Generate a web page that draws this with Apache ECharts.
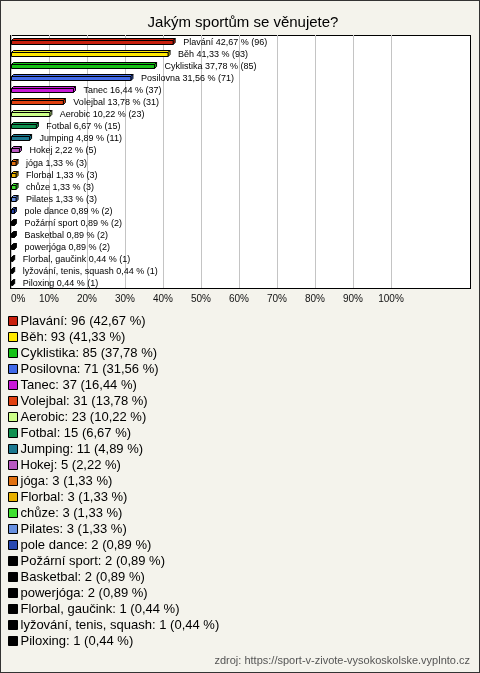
<!DOCTYPE html>
<html>
<head>
<meta charset="utf-8">
<script src="https://cdn.jsdelivr.net/npm/echarts@6/dist/echarts.min.js"></script>
<style>
  html, body { margin:0; padding:0; }
  body { width:480px; height:673px; position:relative; background:#f4f3ec; }
  #frame { position:absolute; left:0; top:0; width:480px; height:673px; box-sizing:border-box; border:1px solid #333; }
  #plotbox { position:absolute; left:10px; top:35px; width:461px; height:254px; box-sizing:border-box; border:1px solid #000; background:#fff; }
  #chart { position:absolute; left:0; top:0; width:480px; height:673px; }
</style>
</head>
<body>
<div id="frame"></div>
<div id="plotbox"></div>
<div id="chart"></div>
<script>
const categories = ["Plavání","Běh","Cyklistika","Posilovna","Tanec","Volejbal","Aerobic","Fotbal","Jumping","Hokej","jóga","Florbal","chůze","Pilates","pole dance","Požární sport","Basketbal","powerjóga","Florbal, gaučink","lyžování, tenis, squash","Piloxing"];
const counts = [96,93,85,71,37,31,23,15,11,5,3,3,3,3,2,2,2,2,1,1,1];
const percents = [42.67,41.33,37.78,31.56,16.44,13.78,10.22,6.67,4.89,2.22,1.33,1.33,1.33,1.33,0.89,0.89,0.89,0.89,0.44,0.44,0.44];
const colors = ["#c8200e","#ffe800","#16c216","#4169e8","#c818d8","#e04010","#ccff88","#109050","#1c7890","#b858c0","#e07010","#e8b000","#40e030","#6890e0","#2848b0","#000000","#000000","#000000","#000000","#000000","#000000"];
const xTicks = [0,10,20,30,40,50,60,70,80,90,100];

const fmt = v => v.toFixed(2).replace('.', ',');

const chart = echarts.init(document.getElementById('chart'), null, {renderer:'canvas'});

const D = 2;
function makeRender(idx){
  return function(params, api){
    const v = api.value(0), i = api.value(1);
    const p0 = api.coord([0, i]);
    const p1 = api.coord([v, i]);
    const x0 = p0[0] + 0.5, x1 = p1[0], cy = Math.round(p0[1]) + 0.5;
    const col = colors[idx];
    const line = {stroke:'#000', lineWidth:1};
    return {
      type:'group',
      children:[
        {type:'polygon', shape:{points:[[x0,cy-1],[x0+D,cy-1-D],[x1+D,cy-1-D],[x1,cy-1]]}, style:Object.assign({fill:col}, line)},
        {type:'polygon', shape:{points:[[x1,cy-1],[x1+D,cy-1-D],[x1+D,cy+3-D],[x1,cy+3]]}, style:Object.assign({fill:col}, line)},
        {type:'rect', shape:{x:x0, y:cy-1, width:Math.max(x1-x0,0.5), height:4}, style:Object.assign({fill:col}, line)},
        {type:'text', x:x1 + D + 8, y:cy + 1, style:{
          text: categories[idx] + ' ' + fmt(percents[idx]) + ' % (' + counts[idx] + ')',
          fill:'#000', fontSize:9, fontFamily:'Liberation Sans, Arial, sans-serif',
          align:'left', verticalAlign:'middle', textAlign:'left', textVerticalAlign:'middle'
        }}
      ]
    };
  };
}

const series = categories.map((name, idx) => ({
  type:'custom',
  name: name,
  color: colors[idx],
  itemStyle:{color: colors[idx]},
  renderItem: makeRender(idx),
  encode:{x:0, y:1},
  data:[[percents[idx], idx]],
  clip:false,
  animation:false
}));

chart.setOption({
  backgroundColor:'transparent',
  animation:false,
  title:{
    text:'Jakým sportům se věnujete?',
    left:238, textAlign:'center', top:10,
    textStyle:{fontSize:15, fontWeight:'normal', color:'#000', fontFamily:'Liberation Sans, Arial, sans-serif'}
  },
  grid:{left:11, top:35, width:380, height:253, containLabel:false},
  xAxis:{
    type:'value', min:0, max:100, interval:10,
    axisLine:{show:false}, axisTick:{show:false},
    splitLine:{show:true, lineStyle:{color:'#c4c4c4', width:1}},
    axisLabel:{formatter:'{value}%', fontSize:10, color:'#111', margin:6, alignMinLabel:'left',
      fontFamily:'Liberation Sans, Arial, sans-serif'}
  },
  yAxis:{
    type:'category', data:categories, inverse:true,
    axisLine:{show:false}, axisTick:{show:false}, axisLabel:{show:false}, splitLine:{show:false}
  },
  legend:{
    orient:'vertical', left:8, top:313, padding:0,
    itemWidth:9, itemHeight:9, itemGap:0,
    icon:'rect', selectedMode:false,
    itemStyle:{borderColor:'#000', borderWidth:1},
    data: categories,
    formatter: function(name){
      const i = categories.indexOf(name);
      return name + ': ' + counts[i] + ' (' + fmt(percents[i]) + ' %)';
    },
    textStyle:{fontSize:13, lineHeight:16, color:'#000', padding:[0,0,0,-2], fontFamily:'Liberation Sans, Arial, sans-serif'}
  },
  graphic:[{
    type:'text', right:10, top:655,
    style:{text:'zdroj: https://sport-v-zivote-vysokoskolske.vyplnto.cz', fill:'#555', fontSize:11, fontFamily:'Liberation Sans, Arial, sans-serif'}
  }],
  series: series
});
</script>
</body>
</html>
